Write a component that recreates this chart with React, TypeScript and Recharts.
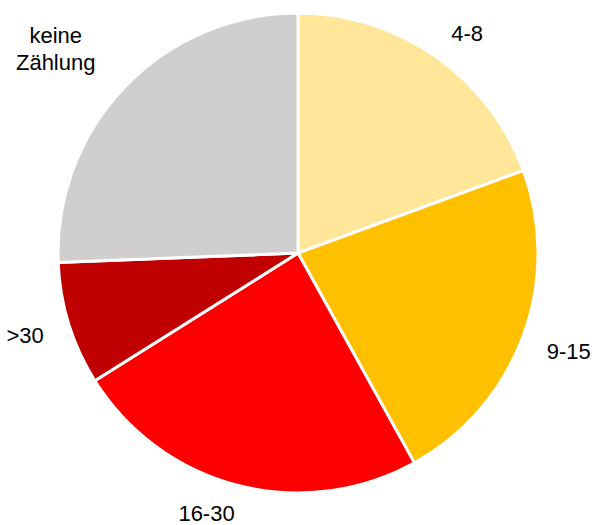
import React from 'react';
import { PieChart, Pie, Cell } from 'recharts';

// Anteile in Prozent, im Uhrzeigersinn ab 12 Uhr
const categories = ['4-8', '9-15', '16-30', '>30', 'keine Zählung'];
const shares = [19.4, 22.5, 24.1, 8.3, 25.6];
const colors = ['#FFE699', '#FFC000', '#FF0000', '#C00000', '#D0CECE'];

const data = categories.map((name, i) => ({ name, value: shares[i] }));

const RAD = Math.PI / 180;
const WIDTH = 592;
const HEIGHT = 525;
const FONT_SIZE = 22;
const FONT = "'Liberation Sans', Arial, sans-serif";
const LINE_HEIGHT = 27;
const LABEL_TOP = 20;
const LABEL_BOTTOM = 527;

// Textbreite messen, damit die Beschriftung außen am Kreis anliegt
let ctx: CanvasRenderingContext2D | null = null;
const measure = (s: string) => {
  if (!ctx) ctx = document.createElement('canvas').getContext('2d');
  if (!ctx) return s.length * FONT_SIZE * 0.55;
  ctx.font = `${FONT_SIZE}px ${FONT}`;
  return ctx.measureText(s).width;
};

const renderLabel = (props: any) => {
  const { cx, cy, midAngle, outerRadius, name } = props;
  const lines = String(name).split(' ');
  const ux = Math.cos(-midAngle * RAD);
  const uy = Math.sin(-midAngle * RAD);
  const r = outerRadius + 27;
  // Excel bricht um, rechnet aber mit der Breite des ganzen Textes
  const w = measure(String(name));
  const h = lines.length * LINE_HEIGHT;
  let y = cy + uy * (r + h / 2);
  let x = cx + ux * (r + w / 2);
  // Beschriftung bleibt im Diagrammbereich und rutscht etwas am Kreis entlang
  const yc = Math.min(Math.max(y, LABEL_TOP + h / 2), LABEL_BOTTOM - h / 2);
  if (yc !== y) {
    y = yc;
    const vy = (y - cy) / (r + h / 2);
    const vx = (Math.sign(ux) || 1) * Math.sqrt(Math.max(0, 1 - vy * vy));
    x = (x + cx + vx * (r + w / 2)) / 2;
  }
  const startY = y - ((lines.length - 1) * LINE_HEIGHT) / 2;
  return (
    <text x={x} y={startY} textAnchor="middle" fill="#000" fontSize={FONT_SIZE} fontFamily={FONT}>
      {lines.map((line, i) => (
        <tspan key={i} x={x} y={startY + i * LINE_HEIGHT} dominantBaseline="central">
          {line}
        </tspan>
      ))}
    </text>
  );
};

const App = () => {
  return (
    <div style={{ position: 'absolute', left: 0, top: 0, background: '#fff' }}>
      <PieChart width={WIDTH} height={HEIGHT} margin={{ top: 0, right: 0, bottom: 0, left: 0 }}>
        <Pie
          data={data}
          dataKey="value"
          nameKey="name"
          cx={298}
          cy={253}
          outerRadius={240}
          startAngle={90}
          endAngle={-270}
          stroke="#fff"
          strokeWidth={3}
          label={renderLabel}
          labelLine={false}
          isAnimationActive={false}
        >
          {data.map((d, i) => (
            <Cell key={d.name} fill={colors[i]} />
          ))}
        </Pie>
      </PieChart>
    </div>
  );
};

export default App;
